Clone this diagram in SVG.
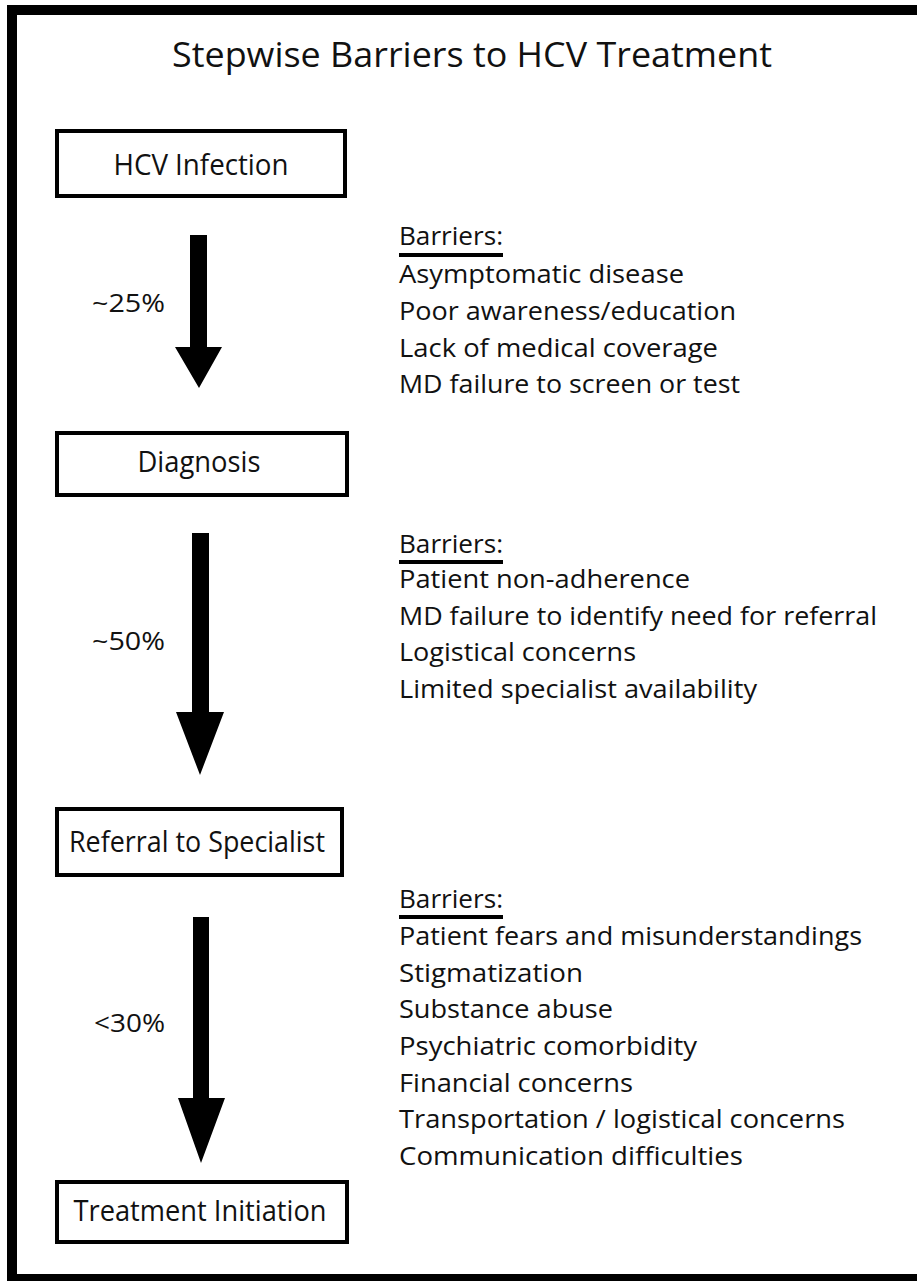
<svg xmlns="http://www.w3.org/2000/svg" width="917" height="1281" viewBox="0 0 917 1281">
<style>
text{font-family:"Open Sans","Noto Sans","Liberation Sans",sans-serif;fill:#111;}
.t{font-size:35px;}
.n{font-size:30px;text-anchor:middle;}
.b{font-size:26px;}
.p{font-size:26px;}
.box{fill:#fff;stroke:#000;stroke-width:4;}
.arr{fill:#000;}
.ul{stroke:#000;stroke-width:4;}
</style>
<rect x="12" y="10" width="920" height="1269" fill="#fff" stroke="#000" stroke-width="10"/>
<text class="t" x="172" y="67" textLength="600" lengthAdjust="spacingAndGlyphs">Stepwise Barriers to HCV Treatment</text>

<g id="node-hcv"><rect class="box" x="57" y="131" width="288" height="65"/><text class="n" x="201" y="175" textLength="175" lengthAdjust="spacingAndGlyphs">HCV Infection</text></g>
<g id="node-diagnosis"><rect class="box" x="57" y="433" width="290" height="62"/><text class="n" x="199" y="472" textLength="123" lengthAdjust="spacingAndGlyphs">Diagnosis</text></g>
<g id="node-referral"><rect class="box" x="57" y="809" width="285" height="66"/><text class="n" x="197" y="852" textLength="256" lengthAdjust="spacingAndGlyphs">Referral to Specialist</text></g>
<g id="node-treatment"><rect class="box" x="57" y="1182" width="290" height="60"/><text class="n" x="200" y="1221" textLength="253" lengthAdjust="spacingAndGlyphs">Treatment Initiation</text></g>

<g id="connectors">
<polygon class="arr" points="190,235 207,235 207,347 222,347 199,388 175,347 190,347"/>
<polygon class="arr" points="192,533 209,533 209,712 224,712 200,775 176,712 192,712"/>
<polygon class="arr" points="193,917 209,917 209,1098 225,1098 201,1163 178,1098 193,1098"/>
<text class="p" x="92" y="312" textLength="73" lengthAdjust="spacingAndGlyphs">~25%</text>
<text class="p" x="92" y="650" textLength="73" lengthAdjust="spacingAndGlyphs">~50%</text>
<text class="p" x="94" y="1032" textLength="71" lengthAdjust="spacingAndGlyphs">&lt;30%</text>
</g>

<g id="barriers-1">
<text class="b" x="399" y="245" textLength="104" lengthAdjust="spacingAndGlyphs">Barriers:</text>
<line class="ul" x1="399" y1="255" x2="503" y2="255"/>
<text class="b" x="399" y="283" textLength="285" lengthAdjust="spacingAndGlyphs">Asymptomatic disease</text>
<text class="b" x="399" y="320" textLength="337" lengthAdjust="spacingAndGlyphs">Poor awareness/education</text>
<text class="b" x="399" y="357" textLength="319" lengthAdjust="spacingAndGlyphs">Lack of medical coverage</text>
<text class="b" x="399" y="393" textLength="341" lengthAdjust="spacingAndGlyphs">MD failure to screen or test</text>
</g>
<g id="barriers-2">
<text class="b" x="399" y="553" textLength="104" lengthAdjust="spacingAndGlyphs">Barriers:</text>
<line class="ul" x1="399" y1="562" x2="503" y2="562"/>
<text class="b" x="399" y="588" textLength="291" lengthAdjust="spacingAndGlyphs">Patient non-adherence</text>
<text class="b" x="399" y="625" textLength="478" lengthAdjust="spacingAndGlyphs">MD failure to identify need for referral</text>
<text class="b" x="399" y="661" textLength="237" lengthAdjust="spacingAndGlyphs">Logistical concerns</text>
<text class="b" x="399" y="698" textLength="358" lengthAdjust="spacingAndGlyphs">Limited specialist availability</text>
</g>
<g id="barriers-3">
<text class="b" x="399" y="908" textLength="104" lengthAdjust="spacingAndGlyphs">Barriers:</text>
<line class="ul" x1="399" y1="917" x2="503" y2="917"/>
<text class="b" x="399" y="945" textLength="463" lengthAdjust="spacingAndGlyphs">Patient fears and misunderstandings</text>
<text class="b" x="399" y="982" textLength="184" lengthAdjust="spacingAndGlyphs">Stigmatization</text>
<text class="b" x="399" y="1018" textLength="214" lengthAdjust="spacingAndGlyphs">Substance abuse</text>
<text class="b" x="399" y="1055" textLength="298" lengthAdjust="spacingAndGlyphs">Psychiatric comorbidity</text>
<text class="b" x="399" y="1092" textLength="234" lengthAdjust="spacingAndGlyphs">Financial concerns</text>
<text class="b" x="399" y="1128" textLength="446" lengthAdjust="spacingAndGlyphs">Transportation / logistical concerns</text>
<text class="b" x="399" y="1165" textLength="344" lengthAdjust="spacingAndGlyphs">Communication difficulties</text>
</g>
</svg>
